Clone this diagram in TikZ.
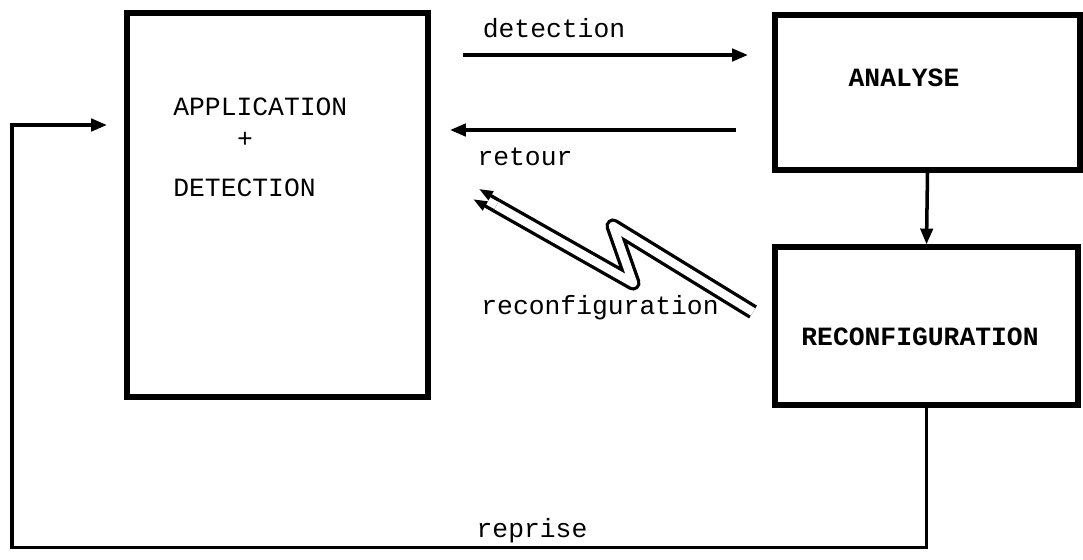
\documentclass[tikz,border=0pt]{standalone}
\usepackage{fontspec}
\setmainfont{Liberation Mono}
\usetikzlibrary{arrows.meta,calc,positioning}

\tikzset{
    box/.style={draw, line width=3pt, inner sep=0pt},
    flow/.style={line width=2pt, -{Triangle[length=9pt,width=7pt]}},
    bolttip/.style={line width=1.9pt, -{Triangle[length=8pt,width=5.5pt]}},
    bolt/.style={line width=1.9pt, double=white, double distance=4.8pt, line join=round},
    txt/.style={inner sep=0pt, text depth=0pt, font=\fontsize{15}{18}\selectfont},
    boldtxt/.style={txt, font=\fontsize{15}{18}\selectfont\bfseries}
}

\begin{document}
\begin{tikzpicture}[x=0.02cm, y=-0.02cm]
    \useasboundingbox (0,0) rectangle (1083,559);
    % Draw boxes
    \node[box, minimum width=6.02cm, minimum height=7.68cm] (app) at (277.5,205) {};
    \node[box, minimum width=6.1cm, minimum height=3.1cm] (ana) at (927.5,92.5) {};
    \node[box, minimum width=6.06cm, minimum height=3.16cm] (rec) at (926.5,326) {};
    % Box texts
    \node[txt, anchor=west] (app-a) at (173,107) {APPLICATION};
    \node[txt] (app-p) at (245,140) {+};
    \node[txt, anchor=west] (app-d) at (173,188) {DETECTION};
    \node[boldtxt] (ana-t) at (904,78) {ANALYSE};
    \node[boldtxt] (rec-t) at (920,337) {RECONFIGURATION};
    % detection and retour
    \coordinate (det-s) at (463,55);
    \coordinate (det-e) at (748,55);
    \draw[flow] (det-s) -- (det-e);
    \node[txt] (det-l) at (554,28) {detection};
    \coordinate (ret-s) at (736,130);
    \coordinate (ret-e) at (450,130);
    \draw[flow] (ret-s) -- (ret-e);
    \node[txt] (ret-l) at (525,157) {retour};
    % Analyse to reconfiguration
    \draw[flow] (ana.south) -- (rec.north);
    % Reconfiguration bolt
    \coordinate (z0) at (476,194);
    \coordinate (z1) at (633,283);
    \coordinate (z2) at (613,226);
    \coordinate (z3) at (753,312);
    \coordinate (zs) at ($(z0)!0.13!(z1)$);
    \draw[bolt] (zs) -- (z1) -- (z2) -- (z3);
    \draw[bolttip] ($(zs)!3.35pt!90:(z1)$) -- ($(z0)!3.35pt!90:(z1)$);
    \draw[bolttip] ($(zs)!3.35pt!-90:(z1)$) -- ($(z0)!3.35pt!-90:(z1)$);
    \node[txt] (bolt-l) at (600,305) {reconfiguration};
    % Reprise loop
    \coordinate (rep-e) at (107,125);
    \draw[flow] (rec.south) -- ++(0,140) -| (12,125) -- (rep-e);
    \node[txt] (rep-l) at (532,528) {reprise};
\end{tikzpicture}
\end{document}
